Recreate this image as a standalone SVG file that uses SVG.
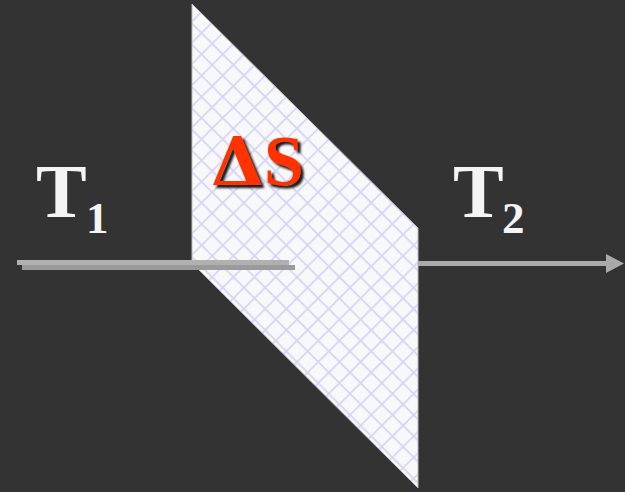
<svg xmlns="http://www.w3.org/2000/svg" width="625" height="492" viewBox="0 0 625 492">
  <style>
    .lbl { font-family: "Liberation Serif", "Times New Roman", serif; font-weight: bold; fill: #f4f4f4; }
    .ds { font-family: "Liberation Serif", "Times New Roman", serif; font-weight: bold; font-size: 72px; fill: #ff3300; }
  </style>
  <defs>
    <pattern id="hatch" patternUnits="userSpaceOnUse" width="15" height="15" patternTransform="rotate(45)">
      <rect width="15" height="15" fill="#f8f8f8"/>
      <path d="M0 0.8 H15 M0.8 0 V15" stroke="#d4d4f8" stroke-width="1.8"/>
    </pattern>
    <filter id="sh" x="-20%" y="-20%" width="140%" height="140%">
      <feGaussianBlur in="SourceAlpha" stdDeviation="1.2" result="b"/>
      <feOffset in="b" dx="3" dy="3" result="o"/>
      <feFlood flood-color="#1a1a1a"/>
      <feComposite in2="o" operator="in" result="s"/>
      <feMerge><feMergeNode in="s"/><feMergeNode in="SourceGraphic"/></feMerge>
    </filter>
  </defs>
  <rect width="625" height="492" fill="#333333"/>
  <g id="surface">
    <polygon points="192,4 418,228 418,488 192,263" fill="url(#hatch)" stroke="#bdbdbd" stroke-width="1"/>
  </g>
  <g id="connectors">
    <rect x="22" y="265" width="273" height="5" fill="#9a9a9a"/>
    <rect x="17" y="260" width="272" height="5" fill="#b0b0b0"/>
    <rect x="418" y="261" width="190" height="5" fill="#aaaaaa"/>
    <polygon points="606,254 624,263.5 606,273" fill="#aaaaaa"/>
  </g>
  <g id="T1">
    <text class="lbl" x="36" y="217" font-size="76">T</text>
    <text class="lbl" x="86" y="233" font-size="45">1</text>
  </g>
  <g id="T2">
    <text class="lbl" x="453" y="217" font-size="76">T</text>
    <text class="lbl" x="502" y="233" font-size="45">2</text>
  </g>
  <g id="deltaS">
    <text class="ds" x="211" y="185" filter="url(#sh)"><tspan font-family="DejaVu Serif, serif" font-size="68">Δ</tspan><tspan>S</tspan></text>
  </g>
</svg>
